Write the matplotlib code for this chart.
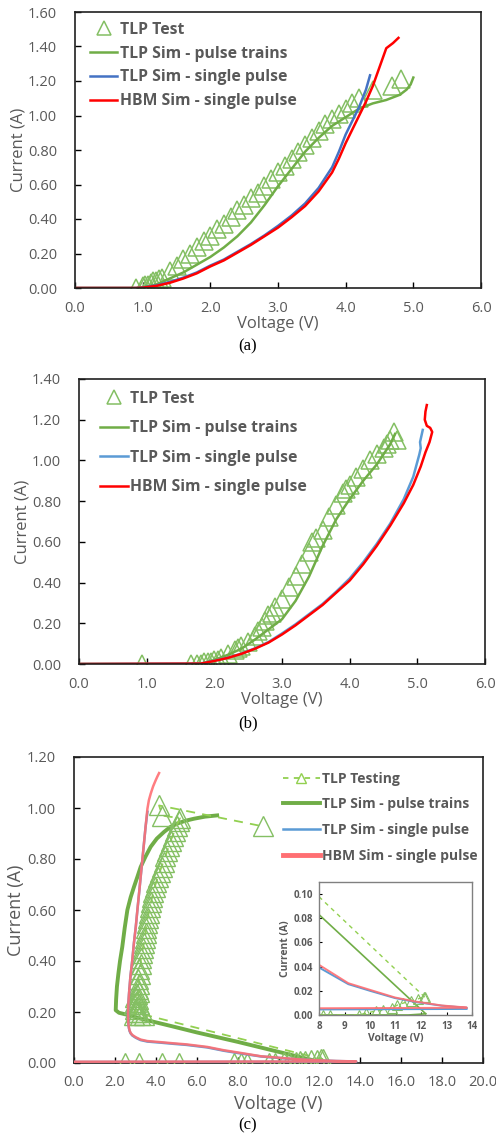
import numpy as np
import matplotlib.pyplot as plt
from matplotlib.lines import Line2D

plt.rcParams['font.family'] = ['Open Sans', 'DejaVu Sans']

# ---- (a) ----
a_test_v = [0.90, 1.00, 1.04, 1.08, 1.12, 1.16, 1.20, 1.24, 1.28, 1.40, 1.50, 1.60, 1.70, 1.80,
            1.90, 2.00, 2.10, 2.20, 2.30, 2.40, 2.50, 2.60, 2.70, 2.80, 2.90, 3.00, 3.10, 3.20,
            3.30, 3.40, 3.50, 3.60, 3.70, 3.80, 3.90, 4.00, 4.10, 4.20, 4.40, 4.68, 4.82]
a_test_i = [0.00, 0.01, 0.02, 0.02, 0.03, 0.04, 0.04, 0.05, 0.06, 0.10, 0.13, 0.17, 0.20, 0.24,
            0.27, 0.30, 0.34, 0.37, 0.41, 0.45, 0.48, 0.52, 0.55, 0.59, 0.63, 0.67, 0.71, 0.75,
            0.79, 0.83, 0.87, 0.91, 0.95, 0.98, 1.01, 1.04, 1.07, 1.10, 1.15, 1.17, 1.21]
a_train_v = [0.0, 0.95, 1.2, 1.4, 1.6, 1.8, 2.0, 2.2, 2.4, 2.6, 2.8, 3.0, 3.2, 3.4, 3.6, 3.8,
             4.0, 4.2, 4.4, 4.6, 4.8, 4.9, 4.96, 5.0]
a_train_i = [0.0, 0.0, 0.02, 0.055, 0.09, 0.135, 0.18, 0.235, 0.30, 0.38, 0.48, 0.59, 0.69,
             0.79, 0.87, 0.94, 0.99, 1.04, 1.07, 1.09, 1.12, 1.15, 1.18, 1.22]
a_single_v = [0.0, 0.9, 1.0, 1.2, 1.4, 1.6, 1.8, 2.0, 2.2, 2.4, 2.6, 2.8, 3.0, 3.2, 3.4, 3.6,
              3.8, 3.9, 4.0, 4.1, 4.2, 4.3, 4.36]
a_single_i = [0.0, 0.0, 0.003, 0.015, 0.035, 0.06, 0.09, 0.13, 0.165, 0.21, 0.255, 0.305, 0.36,
              0.42, 0.49, 0.58, 0.70, 0.79, 0.89, 0.97, 1.05, 1.15, 1.233]
a_hbm_v = [0.0, 0.9, 1.0, 1.2, 1.4, 1.6, 1.8, 2.0, 2.2, 2.4, 2.6, 2.8, 3.0, 3.2, 3.4, 3.6, 3.8,
           3.9, 4.0, 4.1, 4.2, 4.3, 4.4, 4.5, 4.6, 4.7, 4.78]
a_hbm_i = [0.0, 0.0, 0.002, 0.012, 0.03, 0.055, 0.085, 0.125, 0.16, 0.205, 0.25, 0.30, 0.35,
           0.41, 0.475, 0.56, 0.67, 0.75, 0.84, 0.92, 1.00, 1.08, 1.17, 1.28, 1.39, 1.42, 1.45]

# ---- (b) ----
b_test_v = [0.93, 1.65, 1.75, 1.80, 1.85, 1.90, 1.95, 2.00, 2.05, 2.10, 2.20, 2.30, 2.35, 2.40,
            2.50, 2.60, 2.65, 2.70, 2.75, 2.80, 2.85, 2.90, 3.00, 3.10, 3.20, 3.30, 3.40, 3.45,
            3.50, 3.60, 3.70, 3.80, 3.90, 3.95, 4.00, 4.10, 4.20, 4.30, 4.40, 4.50, 4.55, 4.60,
            4.65, 4.70]
b_test_i = [0.00, 0.00, 0.00, 0.00, 0.01, 0.01, 0.01, 0.02, 0.02, 0.03, 0.05, 0.07, 0.08, 0.09,
            0.11, 0.14, 0.16, 0.18, 0.21, 0.24, 0.25, 0.28, 0.32, 0.38, 0.43, 0.49, 0.55, 0.60,
            0.62, 0.66, 0.72, 0.78, 0.84, 0.86, 0.88, 0.92, 0.96, 1.00, 1.03, 1.06, 1.08, 1.10,
            1.14, 1.10]
b_train_v = [0.0, 1.8, 2.0, 2.2, 2.4, 2.6, 2.8, 3.0, 3.2, 3.4, 3.6, 3.8, 4.0, 4.2, 4.4, 4.6,
             4.67]
b_train_i = [0.0, 0.0, 0.02, 0.045, 0.075, 0.12, 0.17, 0.22, 0.31, 0.43, 0.58, 0.71, 0.81,
             0.90, 0.98, 1.08, 1.13]
b_single_v = [0.0, 1.8, 2.0, 2.2, 2.4, 2.6, 2.8, 3.0, 3.2, 3.4, 3.6, 3.8, 4.0, 4.2, 4.4, 4.6,
              4.8, 4.94, 5.03, 5.05, 5.04, 5.08]
b_single_i = [0.0, 0.002, 0.016, 0.031, 0.051, 0.077, 0.108, 0.15, 0.195, 0.245, 0.295, 0.355,
              0.42, 0.50, 0.59, 0.69, 0.81, 0.92, 1.03, 1.06, 1.09, 1.15]
b_hbm_v = [0.0, 1.8, 2.0, 2.2, 2.4, 2.6, 2.8, 3.0, 3.2, 3.4, 3.6, 3.8, 4.0, 4.2, 4.4, 4.6, 4.8,
           4.94, 5.05, 5.12, 5.18, 5.22, 5.19, 5.14, 5.11, 5.12, 5.14]
b_hbm_i = [0.0, 0.002, 0.015, 0.03, 0.05, 0.075, 0.105, 0.145, 0.19, 0.24, 0.29, 0.35, 0.41,
           0.49, 0.58, 0.68, 0.79, 0.88, 0.97, 1.04, 1.09, 1.14, 1.16, 1.17, 1.2, 1.24, 1.272]

# ---- (c) ----
# off-state sweep, snapback cluster, then the last points before failure
c_test_v = [2.50, 3.20, 4.30, 5.15, 7.80, 8.15, 8.45, 9.55, 9.85, 10.25, 10.50, 10.85, 11.05,
            11.30, 11.60, 11.90, 12.10, 12.16,
            3.40, 3.25, 3.15, 3.05, 2.95, 3.00, 3.10, 2.95, 3.20, 3.05, 3.15, 3.00, 3.10, 3.20,
            3.12, 3.18, 3.14, 3.22, 3.20, 3.28, 3.26, 3.34, 3.36, 3.42, 3.45, 3.50, 3.52, 3.57,
            3.60, 3.66, 3.70, 3.76, 3.82, 3.88, 3.95, 4.02, 4.10, 4.20, 4.28, 4.38, 4.47, 4.55,
            4.64, 4.72, 4.82, 4.92, 5.02, 5.12, 5.18,
            4.32, 4.16, 9.24]
c_test_i = [0.000, 0.000, 0.000, 0.000, 0.000, 0.000, 0.000, 0.000, 0.0015, 0.0035, 0.004, 0.0057,
            0.008, 0.0098, 0.0117, 0.0134, 0.0153, 0.0145,
            0.19, 0.19, 0.20, 0.20, 0.19, 0.21, 0.22, 0.23, 0.23, 0.24, 0.25, 0.26, 0.27, 0.28,
            0.29, 0.31, 0.33, 0.35, 0.37, 0.39, 0.41, 0.43, 0.45, 0.47, 0.49, 0.51, 0.53, 0.55,
            0.57, 0.59, 0.61, 0.63, 0.65, 0.67, 0.69, 0.71, 0.73, 0.75, 0.77, 0.79, 0.81, 0.83,
            0.85, 0.87, 0.89, 0.91, 0.93, 0.95, 0.96,
            0.97, 1.01, 0.928]
c_train_v = [0.0, 11.5, 12.2, 12.16, 8.0, 6.0, 4.9, 3.26, 2.6, 2.2, 2.04, 2.06, 2.10, 2.17,
             2.25, 2.36, 2.48, 2.61, 2.77, 2.93, 3.10, 3.26, 3.50, 3.75, 4.05, 4.40, 4.70, 5.05,
             5.45, 5.87, 6.40, 7.00]
c_train_i = [0.0, 0.0, 0.001, 0.0015, 0.083, 0.12, 0.142, 0.174, 0.189, 0.197, 0.207, 0.25,
             0.30, 0.35, 0.40, 0.455, 0.53, 0.60, 0.65, 0.69, 0.73, 0.769, 0.81, 0.848, 0.88,
             0.906, 0.925, 0.939, 0.95, 0.958, 0.966, 0.971]
c_single_v = [0.0, 13.8, 13.79, 12.81, 11.76, 10.98, 10.0, 9.15, 8.0, 7.33, 6.52, 5.5, 4.89,
              4.2, 3.59, 3.25, 3.02, 2.85, 2.77, 2.72, 2.69, 2.66, 2.64, 2.66, 2.69, 2.76, 2.85,
              2.93, 3.02, 3.10, 3.18, 3.26, 3.34, 3.42, 3.5, 3.59]
c_single_i = [0.004, 0.005, 0.006, 0.0077, 0.0108, 0.014, 0.020, 0.0255, 0.0393, 0.048, 0.061,
              0.071, 0.075, 0.080, 0.084, 0.090, 0.099, 0.108, 0.116, 0.125, 0.135, 0.15,
              0.194, 0.235, 0.272, 0.34, 0.403, 0.47, 0.533, 0.60, 0.664, 0.73, 0.795, 0.86,
              0.926, 0.985]
c_hbm_v = [0.0, 13.8, 13.79, 12.81, 11.76, 10.98, 10.0, 9.15, 8.0, 7.33, 6.52, 5.5, 4.89, 4.2,
           3.59, 3.25, 3.02, 2.85, 2.77, 2.72, 2.69, 2.66, 2.64, 2.66, 2.69, 2.76, 2.85, 2.93,
           3.02, 3.10, 3.18, 3.26, 3.34, 3.42, 3.5, 3.59, 3.66, 3.75, 3.87, 3.99, 4.08, 4.16]
c_hbm_i = [0.005, 0.006, 0.0062, 0.0079, 0.0112, 0.0145, 0.0208, 0.0263, 0.0415, 0.050, 0.063,
           0.073, 0.077, 0.082, 0.086, 0.092, 0.101, 0.110, 0.118, 0.127, 0.137, 0.152, 0.194,
           0.235, 0.272, 0.34, 0.403, 0.47, 0.533, 0.60, 0.664, 0.73, 0.795, 0.86, 0.926,
           0.997, 1.03, 1.056, 1.085, 1.108, 1.124, 1.137]

GREEN = '#70AD47'
LGREEN = '#84BF63'
DGREEN = '#92D050'
BLUE_A = '#4472C4'
BLUE = '#5B9BD5'
RED = '#FF0000'
PINK = '#FF6F73'
GRAY = '#595959'

W, H = 496, 1138
fig = plt.figure(figsize=(W / 100, H / 100), dpi=100)


def box(left, top, right, bottom):
    return [left / W, 1 - bottom / H, (right - left) / W, (bottom - top) / H]


def style(ax, xmax, xstep, ymax, ystep, lab=12, xpad=0):
    ax.set_xlim(0, xmax)
    ax.set_ylim(0, ymax)
    ax.set_xticks(np.arange(0, xmax + 1e-9, xstep))
    ax.set_yticks(np.arange(0, ymax + 1e-9, ystep))
    ax.xaxis.set_major_formatter(plt.FormatStrFormatter('%.1f'))
    ax.yaxis.set_major_formatter(plt.FormatStrFormatter('%.2f'))
    ax.tick_params(direction='in', length=4, width=1, colors='black', labelcolor=GRAY,
                   labelsize=10.5)
    ax.tick_params(axis='x', pad=9)
    ax.tick_params(axis='y', pad=13)
    for s in ax.spines.values():
        s.set_linewidth(1.2)
        s.set_color('#202020')
    ax.set_xlabel('Voltage (V)', color=GRAY, fontsize=lab, labelpad=xpad)
    ax.set_ylabel('Current (A)', color=GRAY, fontsize=lab, labelpad=1)


def leg_kw(size, handlelength):
    return dict(frameon=False, loc='upper left', prop={'weight': 'bold', 'size': size},
                labelcolor=GRAY, handlelength=handlelength, handletextpad=0.15,
                borderaxespad=0, borderpad=0)


# (a)
ax = fig.add_axes(box(75, 12, 481, 288))
ax.plot(a_test_v, a_test_i, ls='none', marker='^', ms=13, mfc='none', mec=LGREEN, mew=1.1,
        label='TLP Test')
ax.plot(a_train_v, a_train_i, color=GREEN, lw=1.8, label='TLP Sim - pulse trains')
ax.plot(a_single_v, a_single_i, color=BLUE_A, lw=1.8, label='TLP Sim - single pulse')
ax.plot(a_hbm_v, a_hbm_i, color=RED, lw=1.8, label='HBM Sim - single pulse')
style(ax, 6, 1, 1.6, 0.2)
ax.legend(bbox_to_anchor=(0.037, 0.965), labelspacing=0.5, markerscale=0.75,
          **leg_kw(11.3, 1.75))
fig.text(248 / W, 1 - 346 / H, '(a)', ha='center', va='center', family='Liberation Serif',
         fontsize=12)

# (b)
ax = fig.add_axes(box(79, 379, 485, 664))
ax.plot(b_test_v, b_test_i, ls='none', marker='^', ms=13, mfc='none', mec=LGREEN, mew=1.1,
        label='TLP Test')
ax.plot(b_train_v, b_train_i, color=GREEN, lw=1.8, label='TLP Sim - pulse trains')
ax.plot(b_single_v, b_single_i, color=BLUE, lw=1.8, label='TLP Sim - single pulse')
ax.plot(b_hbm_v, b_hbm_i, color=RED, lw=1.8, label='HBM Sim - single pulse')
style(ax, 6, 1, 1.4, 0.2)
ax.legend(bbox_to_anchor=(0.052, 0.958), labelspacing=0.86, markerscale=0.75,
          **leg_kw(11.3, 1.75))
fig.text(248 / W, 1 - 723 / H, '(b)', ha='center', va='center', family='Liberation Serif',
         fontsize=12)

# (c)
ax = fig.add_axes(box(74, 757, 483, 1063))
ax.plot(c_train_v, c_train_i, color=GREEN, lw=2.8, zorder=2)
ax.plot(c_test_v, c_test_i, ls=(0, (5, 4)), lw=1.3, color=DGREEN, marker='^', ms=15,
        mfc='none', mec=LGREEN, mew=1.0, zorder=3)
ax.plot(c_single_v, c_single_i, color=BLUE, lw=1.8, zorder=4)
ax.plot(c_hbm_v, c_hbm_i, color=PINK, lw=1.8, alpha=0.9, zorder=5)
style(ax, 20, 2, 1.2, 0.2, lab=13, xpad=3)
handles = [
    Line2D([], [], ls=(0, (3, 3)), lw=1.3, color=DGREEN, marker='^', ms=7, mfc='none',
           mec=DGREEN),
    Line2D([], [], color=GREEN, lw=2.8),
    Line2D([], [], color=BLUE, lw=1.8),
    Line2D([], [], color=PINK, lw=3.5),
]
labels = ['TLP Testing', 'TLP Sim - pulse trains', 'TLP Sim - single pulse',
          'HBM Sim - single pulse']
ax.legend(handles, labels, bbox_to_anchor=(0.511, 0.952), labelspacing=0.84,
          **leg_kw(10, 2.65))
fig.text(248 / W, 1 - 1125 / H, '(c)', ha='center', va='center', family='Liberation Serif',
         fontsize=12)

# inset of (c)
ins = fig.add_axes(box(319, 882, 472, 1015))
ins.plot(c_train_v, c_train_i, color=GREEN, lw=1.2)
ins.plot(c_test_v, c_test_i, ls=(0, (3, 3)), lw=1.0, color=DGREEN, marker='^', ms=7,
         mfc='none', mec=LGREEN, mew=0.8)
ins.plot(c_single_v, c_single_i, color=BLUE, lw=1.4)
ins.plot(c_hbm_v, c_hbm_i, color=PINK, lw=1.4, alpha=0.9)
ins.set_xlim(8, 14)
ins.set_ylim(0, 0.11)
ins.set_xticks(np.arange(8, 15, 1))
ins.set_yticks(np.arange(0, 0.101, 0.02))
ins.yaxis.set_major_formatter(plt.FormatStrFormatter('%.2f'))
ins.tick_params(direction='in', length=2.5, width=0.8, labelsize=7, labelcolor=GRAY, pad=4)
for lab in ins.get_xticklabels() + ins.get_yticklabels():
    lab.set_fontweight('bold')
for s in ins.spines.values():
    s.set_color('#808080')
    s.set_linewidth(1.0)
ins.set_xlabel('Voltage (V)', color=GRAY, fontsize=7.5, fontweight='bold', labelpad=1)
ins.set_ylabel('Current (A)', color=GRAY, fontsize=7.5, fontweight='bold', labelpad=2)

fig.savefig('out.png', dpi=100)
